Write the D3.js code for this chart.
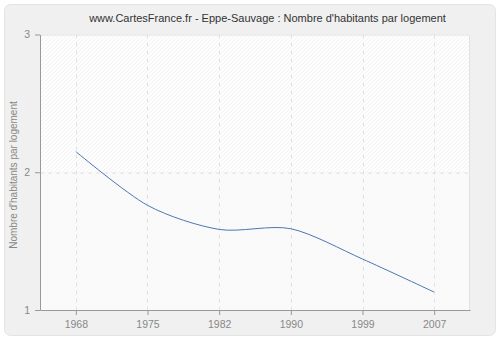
<!DOCTYPE html>
<html>
<head>
<meta charset="utf-8">
<script src="https://cdn.jsdelivr.net/npm/d3@7/dist/d3.min.js"></script>
<style>
  html, body { margin: 0; padding: 0; background: #ffffff; }
  svg { display: block; }
</style>
</head>
<body>
<script>
// Census years and average persons per dwelling
const years = ["1968", "1975", "1982", "1990", "1999", "2007"];
const perHousehold = [2.15, 1.76, 1.585, 1.59, 1.37, 1.13];
const yTicks = [1, 2, 3];
const title = "www.CartesFrance.fr - Eppe-Sauvage : Nombre d'habitants par logement";
const yLabel = "Nombre d'habitants par logement";

const W = 500, H = 340;
const margin = { left: 40, right: 30, top: 34.5, bottom: 30 };
const plotW = W - margin.left - margin.right;
const plotH = H - margin.top - margin.bottom;
const FONT = "Liberation Sans, Arial, sans-serif";

const svg = d3.select("body").append("svg")
  .attr("width", W).attr("height", H);

// Outer panel
svg.append("rect")
  .attr("x", 4.5).attr("y", 4.5)
  .attr("width", W - 9).attr("height", H - 9)
  .attr("rx", 6).attr("ry", 6)
  .attr("fill", "#f0f0f0")
  .attr("stroke", "#e4e4e4");

// Hatch patterns for plot background
const defs = svg.append("defs");
function hatch(id, bg, line) {
  const p = defs.append("pattern")
    .attr("id", id)
    .attr("patternUnits", "userSpaceOnUse")
    .attr("width", 4).attr("height", 4);
  p.append("rect").attr("width", 4).attr("height", 4).attr("fill", bg);
  p.append("path")
    .attr("d", "M-1,1 l2,-2 M0,4 l4,-4 M3,5 l2,-2")
    .attr("stroke", line).attr("stroke-width", 0.8);
}
hatch("hatchUpper", "#ffffff", "#ebebeb");
hatch("hatchLower", "#fbfbfb", "#f3f3f3");

const x = d3.scalePoint().domain(years).range([0, plotW]).padding(0.5);
const y = d3.scaleLinear().domain([1, 3]).range([plotH, 0]);

const g = svg.append("g")
  .attr("transform", `translate(${margin.left},${margin.top})`);

g.append("rect")
  .attr("x", 0).attr("y", y(3))
  .attr("width", plotW).attr("height", y(2) - y(3))
  .attr("fill", "url(#hatchUpper)");
g.append("rect")
  .attr("x", 0).attr("y", y(2))
  .attr("width", plotW).attr("height", y(1) - y(2))
  .attr("fill", "url(#hatchLower)");

// Top and right frame
g.append("path")
  .attr("d", `M0,0.5 H${plotW - 0.5} V${plotH}`)
  .attr("fill", "none").attr("stroke", "#e2e2e2");

// Grid
g.selectAll(".vgrid").data(years).enter().append("line")
  .attr("x1", d => Math.round(x(d)) + 0.5).attr("x2", d => Math.round(x(d)) + 0.5)
  .attr("y1", 0).attr("y2", plotH)
  .attr("stroke", "#e2e2e2").attr("stroke-dasharray", "4,4");
g.selectAll(".hgrid").data(yTicks.filter(v => v > 1 && v < 3)).enter().append("line")
  .attr("x1", 0).attr("x2", plotW)
  .attr("y1", d => Math.round(y(d)) + 0.5).attr("y2", d => Math.round(y(d)) + 0.5)
  .attr("stroke", "#e2e2e2").attr("stroke-dasharray", "4,4");

// Axes
const xAxis = g.append("g")
  .attr("transform", `translate(0,${plotH})`)
  .call(d3.axisBottom(x).tickSize(5).tickSizeOuter(0).tickPadding(6)
    .offset(0.5));
const yAxis = g.append("g")
  .call(d3.axisLeft(y).tickValues(yTicks).tickFormat(d3.format("d"))
    .tickSize(5).tickSizeOuter(0).tickPadding(5).offset(0.5));

[xAxis, yAxis].forEach(a => {
  a.select(".domain").attr("stroke", "#999999");
  a.selectAll(".tick line").attr("stroke", "#999999");
  a.selectAll(".tick text")
    .attr("fill", "#888888")
    .attr("font-family", FONT)
    .attr("font-size", 10.5);
});

// Data line: smooth cardinal spline through the census points
const line = d3.line()
  .x((d, i) => x(years[i]))
  .y(d => y(d))
  .curve(d3.curveCardinal.tension(0.15));

g.append("path")
  .datum(perHousehold)
  .attr("d", line)
  .attr("fill", "none")
  .attr("stroke", "#4a78b0")
  .attr("stroke-width", 1);

// Title
svg.append("text")
  .attr("x", 267.5).attr("y", 22)
  .attr("text-anchor", "middle")
  .attr("font-family", FONT)
  .attr("font-size", 11)
  .attr("fill", "#333333")
  .text(title);

// Y label
svg.append("text")
  .attr("transform", `translate(17,175) rotate(-90)`)
  .attr("text-anchor", "middle")
  .attr("font-family", FONT)
  .attr("font-size", 10)
  .attr("fill", "#888888")
  .text(yLabel);
</script>
</body>
</html>
